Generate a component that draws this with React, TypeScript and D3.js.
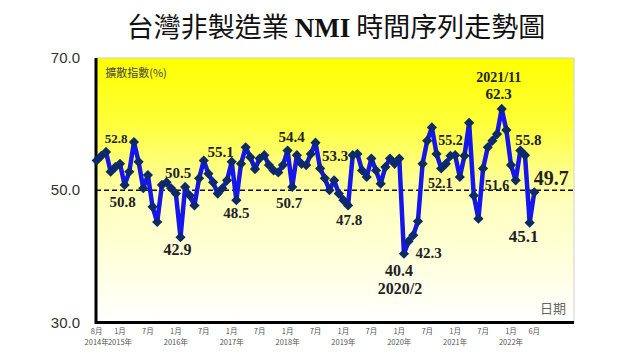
import React, { useRef, useEffect } from 'react';
import * as d3 from 'd3';

// monthly NMI, 2014/8 .. 2022/6
const nmiValues = [
  54.5, 55.2, 55.8, 52.8, 53.5, 54.0, 50.8, 52.8, 57.3, 54.3, 50.3, 52.3, 47.5, 45.2, 50.8,
  51.2, 50.3, 49.5, 42.9, 50.5, 49.2, 47.7, 51.8, 54.5, 52.5, 51.2, 49.5, 50.3, 51.5, 54.3,
  48.5, 54.0, 56.5, 55.0, 53.2, 54.8, 55.3, 53.8, 53.0, 52.7, 53.8, 56.0, 50.5, 55.3, 54.0,
  53.8, 55.5, 57.2, 53.3, 51.8, 50.0, 51.5, 49.5, 48.5, 47.7, 55.3, 55.5, 53.0, 52.0, 54.8,
  53.0, 51.0, 53.5, 54.8, 54.0, 54.8, 40.4, 42.3, 43.2, 45.3, 54.0, 57.5, 59.5, 55.5, 53.3,
  54.0, 55.2, 55.3, 52.0, 55.2, 60.2, 49.2, 45.7, 53.3, 56.5, 57.5, 58.5, 62.3, 59.1, 53.8,
  51.5, 56.0, 55.3, 45.1, 49.7,
];

const tickIndex = [0, 5, 11, 17, 23, 29, 35, 41, 47, 53, 59, 65, 71, 77, 83, 89, 94];
const tickMonth = ['8月', '1月', '7月', '1月', '7月', '1月', '7月', '1月', '7月', '1月', '7月', '1月', '7月', '1月', '7月', '1月', '6月'];
const tickYear = ['2014年', '2015年', '', '2016年', '', '2017年', '', '2018年', '', '2019年', '', '2020年', '', '2021年', '', '2022年', ''];

const yTicks = [30, 50, 70];

const noteText = ['52.8', '50.8', '50.5', '42.9', '55.1', '48.5', '54.4', '50.7', '53.3', '47.8', '40.4', '2020/2', '42.3', '52.1', '55.2', '51.6', '2021/11', '62.3', '55.8', '49.7', '45.1'];
const noteIndex = [2, 6, 19, 18, 29, 30, 41, 42, 48, 54, 66, 66, 67, 74, 73, 83, 87, 87, 91, 94, 93];

// label placement relative to its point: [dx, dy, fontSize]
const notePlace: [number, number, number][] = [
  [10, -13, 13], [-2, 17, 15], [-7, -14, 15], [-3, 13, 16], [-11, -10, 15], [0, 13, 15],
  [4, -14, 15], [-3, 16, 15], [15, -12, 15], [1, 15, 15], [-5, 17, 16], [-4, 35, 16],
  [20, 12, 15], [-1, 15, 14], [14, -14, 14], [14, 17, 14], [-3, -32, 14], [-3, -15, 15],
  [8, -11, 15], [17, -14, 20], [-6, 14, 17],
];

function NmiChart() {
  const svgRef = useRef<SVGSVGElement>(null);

  useEffect(() => {
    const svg = d3.select(svgRef.current);
    svg.selectAll('*').remove();

    const left = 96, right = 574, top = 58, bottom = 322.5;

    const x = d3.scaleLinear().domain([0, 94]).range([96.7, 534.3]);
    const y = d3.scaleLinear().domain([30, 70]).range([bottom, top]);

    const defs = svg.append('defs');
    const grad = defs.append('linearGradient').attr('id', 'bg').attr('x1', 0).attr('y1', 0).attr('x2', 0).attr('y2', 1);
    grad.append('stop').attr('offset', '0%').attr('stop-color', '#ffff00');
    grad.append('stop').attr('offset', '25%').attr('stop-color', '#ffff3a');
    grad.append('stop').attr('offset', '55%').attr('stop-color', '#ffffbe');
    grad.append('stop').attr('offset', '100%').attr('stop-color', '#ffffff');

    // title
    const title = svg.append('text')
      .attr('x', 336).attr('y', 37)
      .attr('text-anchor', 'middle')
      .attr('font-size', 27)
      .attr('fill', '#111')
      .attr('font-family', '"Noto Sans CJK TC", sans-serif');
    title.append('tspan').text('台灣非製造業 ');
    title.append('tspan').attr('font-family', '"Liberation Serif", serif').attr('font-weight', 'bold').text('NMI');
    title.append('tspan').text(' 時間序列走勢圖');

    // plot area
    svg.append('rect')
      .attr('x', left).attr('y', top)
      .attr('width', right - left).attr('height', bottom - top)
      .attr('fill', 'url(#bg)')
      .attr('stroke', '#d0d0d0').attr('stroke-width', 1);

    svg.append('line').attr('x1', left).attr('x2', left).attr('y1', top).attr('y2', bottom + 1.5)
      .attr('stroke', '#000').attr('stroke-width', 3);
    svg.append('line').attr('x1', left).attr('x2', right).attr('y1', bottom).attr('y2', bottom)
      .attr('stroke', '#000').attr('stroke-width', 3);

    // y labels
    svg.append('g').selectAll('text').data(yTicks).enter().append('text')
      .attr('x', 80).attr('y', (d) => y(d) + 5)
      .attr('text-anchor', 'end')
      .attr('font-family', '"Liberation Sans", sans-serif')
      .attr('font-size', 15)
      .attr('fill', '#333')
      .text((d) => d.toFixed(1));

    // x labels
    const xg = svg.append('g').attr('font-family', '"Noto Sans CJK TC", sans-serif').attr('font-size', 7.5).attr('fill', '#555').attr('text-anchor', 'middle');
    xg.selectAll('.m').data(tickIndex).enter().append('text')
      .attr('class', 'm')
      .attr('x', (d) => x(d)).attr('y', 334)
      .text((d, i) => tickMonth[i]);
    xg.selectAll('.yr').data(tickIndex).enter().append('text')
      .attr('class', 'yr')
      .attr('x', (d) => x(d)).attr('y', 345)
      .text((d, i) => tickYear[i]);

    svg.append('text').attr('x', 136).attr('y', 77).attr('text-anchor', 'middle')
      .attr('font-family', '"Noto Sans CJK TC", sans-serif').attr('font-size', 11).attr('fill', '#444')
      .text('擴散指數(%)');
    svg.append('text').attr('x', 553).attr('y', 313).attr('text-anchor', 'middle')
      .attr('font-family', '"Noto Sans CJK TC", sans-serif').attr('font-size', 13).attr('fill', '#666')
      .text('日期');

    // 50 reference
    svg.append('line').attr('x1', left).attr('x2', right).attr('y1', y(50)).attr('y2', y(50))
      .attr('stroke', '#111').attr('stroke-width', 1.5).attr('stroke-dasharray', '5,3');

    // series
    const line = d3.line<number>().x((d, i) => x(i)).y((d) => y(d));
    svg.append('path').datum(nmiValues)
      .attr('d', line)
      .attr('fill', 'none')
      .attr('stroke', '#1515ee')
      .attr('stroke-width', 4.5)
      .attr('stroke-linejoin', 'round');

    const diamond = d3.symbol().type(d3.symbolSquare).size(52);
    svg.append('g').selectAll('path').data(nmiValues).enter().append('path')
      .attr('d', diamond)
      .attr('transform', (d, i) => `translate(${x(i)},${y(d)}) rotate(45)`)
      .attr('fill', '#0c2a6a');

    // value notes
    svg.append('g').selectAll('text').data(noteText).enter().append('text')
      .attr('x', (d, i) => x(noteIndex[i]) + notePlace[i][0])
      .attr('y', (d, i) => y(nmiValues[noteIndex[i]]) + notePlace[i][1] + notePlace[i][2] * 0.33)
      .attr('text-anchor', 'middle')
      .attr('font-family', '"Liberation Serif", serif')
      .attr('font-weight', 'bold')
      .attr('font-size', (d, i) => notePlace[i][2])
      .attr('fill', '#222')
      .text((d) => d);
  }, []);

  return <svg ref={svgRef} width={640} height={360} style={{ position: 'absolute', left: 0, top: 0 }} />;
}

export default function App() {
  return <NmiChart />;
}
